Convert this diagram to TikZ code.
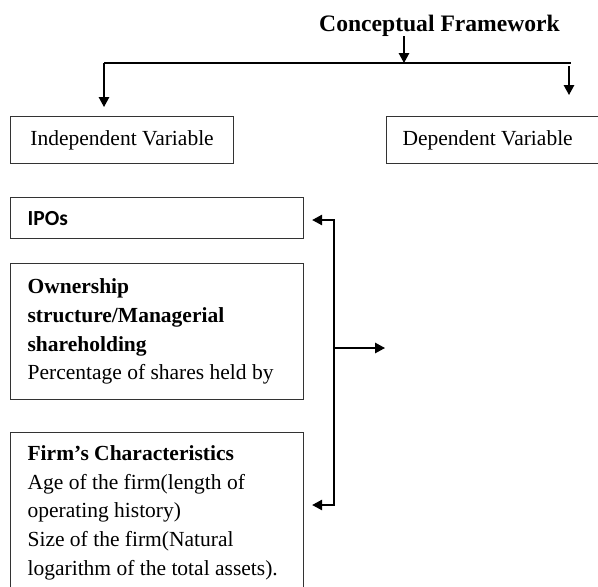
\documentclass[tikz,border=0pt]{standalone}
\usepackage{fontspec}
\setmainfont{Liberation Serif}
\newfontfamily\ipofont{Carlito}
\usetikzlibrary{arrows.meta,positioning,calc}

\begin{document}
\begin{tikzpicture}[
    x=1pt, y=-1pt,
    >={Triangle[length=10pt,width=10.5pt]},
    box/.style={draw=black!80, line width=1.2pt, anchor=north west, inner ysep=0pt,
        font=\fontsize{21.5}{28.7}\selectfont},
    leftbox/.style={box, text width=259pt, align=flush left, inner xsep=17pt},
    link/.style={line width=1.4pt},
    arr/.style={link, ->}
]
\useasboundingbox (0,0) rectangle (598,587);

\node[font=\fontsize{23.6}{28}\selectfont\bfseries, inner sep=0pt, anchor=base] (title) at (439.5,31) {Conceptual Framework};

\node[box, minimum width=223pt, minimum height=47pt] (indep) at (10,116) {Independent Variable};
\node[box, text width=200pt, align=flush left, inner xsep=16pt, minimum height=47pt] (dep) at (386,116) {Dependent Variable};

\node[leftbox, minimum height=41pt] (ipo) at (10,197) {\ipofont\bfseries IPOs};

\node[leftbox, minimum height=136pt] (own) at (10,263) {
    \textbf{Ownership}\\
    \textbf{structure/Managerial}\\
    \textbf{shareholding}\\
    Percentage of shares held by
};

\node[leftbox, minimum height=160pt] (firm) at (10,432) {
    \textbf{Firm’s Characteristics}\\
    Age of the firm(length of\\
    operating history)\\
    Size of the firm(Natural\\
    logarithm of the total assets).
};

% branching line under the title
\coordinate (busL) at (104,63);
\coordinate (busM) at (404,63);
\coordinate (busR) at (571,63);
\coordinate (indepIn) at (104,107);
\coordinate (depTop) at (569,66);
\coordinate (depIn) at (569,95);

\draw[arr] (title.south -| busM) -- (busM);
\draw[link] (busL) -- (busR);
\draw[arr] (busL) -- (indepIn);
\draw[arr] (depTop) -- (depIn);

% links between the independent variables
\coordinate (spTop) at (334,220);
\coordinate (spMid) at (334,348);
\coordinate (spBot) at (334,505);
\coordinate (outEnd) at (385,348);

\draw[link, <->] ([xshift=8pt]ipo.east |- spTop) -- (spTop) -- (spBot) -- ([xshift=8pt]firm.east |- spBot);
\draw[arr] (spMid) -- (outEnd);

\end{tikzpicture}
\end{document}
